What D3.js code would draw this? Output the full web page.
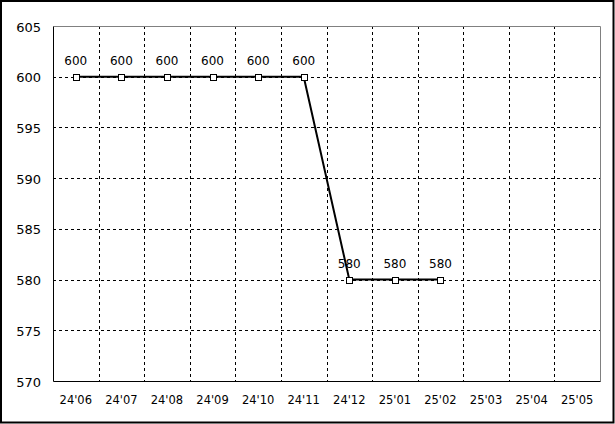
<!DOCTYPE html>
<html><head><meta charset="utf-8">
<script src="https://cdn.jsdelivr.net/npm/d3@7"></script>
<style>body{margin:0;background:#fff}svg{display:block}</style>
</head><body>
<script>
const categories = ["24'06","24'07","24'08","24'09","24'10","24'11","24'12","25'01","25'02","25'03","25'04","25'05"];
const values = [600,600,600,600,600,600,580,580,580];
const yTicks = [570,575,580,585,590,595,600,605];

const W = 615, H = 424;
const m = {l:53, t:26, r:600, b:381};
const svg = d3.select("body").append("svg").attr("width",W).attr("height",H);
svg.append("rect").attr("x",1).attr("y",1).attr("width",W-2.5).attr("height",H-2.5)
  .attr("fill","#fff").attr("stroke","#000").attr("stroke-width",2);

const x = d3.scaleBand().domain(categories).range([m.l,m.r]).padding(0);
const y = d3.scaleLinear().domain([570,605]).range([m.b,m.t]);
const font = "'DejaVu Sans', sans-serif";

// horizontal grid
svg.append("g").selectAll("line").data(yTicks.filter(v=>v>570&&v<605)).join("line")
  .attr("x1",m.l).attr("x2",m.r).attr("y1",d=>Math.round(y(d))+0.5).attr("y2",d=>Math.round(y(d))+0.5)
  .attr("stroke","#000").attr("stroke-dasharray","3,3");
// vertical grid
svg.append("g").selectAll("line").data(categories.slice(1)).join("line")
  .attr("x1",d=>Math.round(x(d))+0.5).attr("x2",d=>Math.round(x(d))+0.5).attr("y1",m.t).attr("y2",m.b)
  .attr("stroke","#000").attr("stroke-dasharray","3,3");
// frame
svg.append("path").attr("d",`M${m.l+0.5},${m.t+0.5}H${m.r+0.5}V${m.b+0.5}`).attr("fill","none").attr("stroke","#808080");
svg.append("path").attr("d",`M${m.l+0.5},${m.t+0.5}V${m.b+0.5}H${m.r+0.5}`).attr("fill","none").attr("stroke","#000");

// y labels
svg.append("g").selectAll("text").data(yTicks).join("text")
  .attr("x",41).attr("y",d=>y(d)+5.5).attr("text-anchor","end")
  .attr("font-family",font).attr("font-size",13).text(d=>d);
// x labels
svg.append("g").selectAll("text").data(categories).join("text")
  .attr("x",d=>x(d)+x.bandwidth()/2).attr("y",404).attr("text-anchor","middle")
  .attr("font-family",font).attr("font-size",11.5).text(d=>d);

const pts = values.map((v,i)=>({c:categories[i],v}));
const cx = d=>x(d.c)+x.bandwidth()/2;
svg.append("path").datum(pts).attr("fill","none").attr("stroke","#000").attr("stroke-width",2)
  .attr("d",d3.line().x(cx).y(d=>y(d.v)));
svg.append("g").selectAll("rect").data(pts).join("rect")
  .attr("x",d=>Math.round(cx(d))-3+0.5).attr("y",d=>Math.round(y(d.v))-3+0.5).attr("width",6).attr("height",6)
  .attr("fill","#fff").attr("stroke","#000");
svg.append("g").selectAll("text").data(pts).join("text")
  .attr("x",cx).attr("y",d=>y(d.v)-12).attr("text-anchor","middle")
  .attr("font-family",font).attr("font-size",12).text(d=>d.v);
</script>
</body></html>
